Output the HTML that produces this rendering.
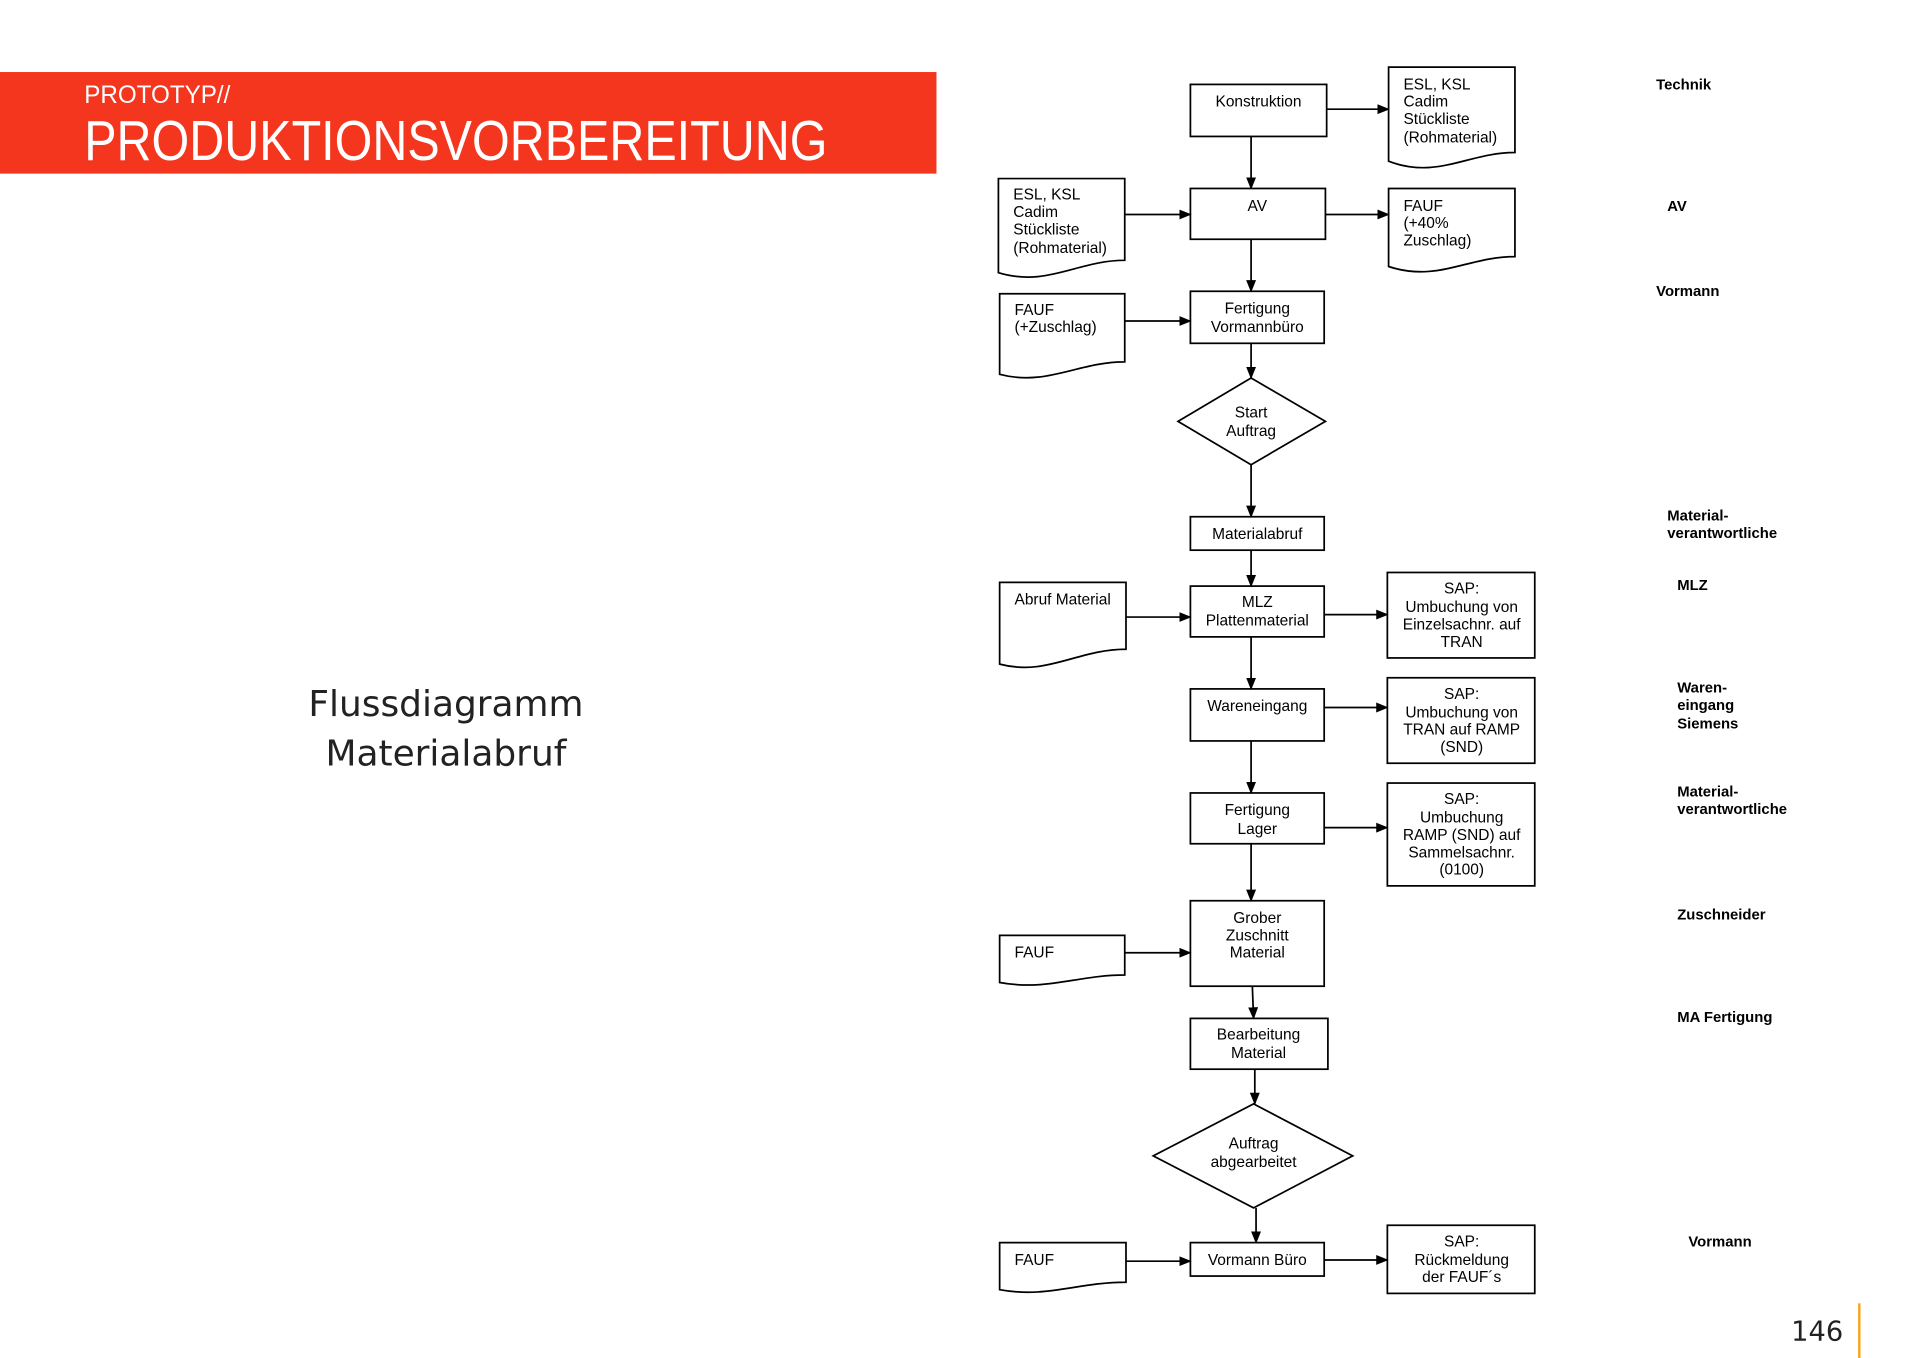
<!DOCTYPE html>
<html><head><meta charset="utf-8"><style>
html,body{margin:0;padding:0;background:#fff;}
svg{display:block;}
.t{font-family:"Liberation Sans",Arial,sans-serif;font-size:12.5px;fill:#000;}
.l{font-family:"Liberation Sans",Arial,sans-serif;font-size:12px;font-weight:bold;fill:#000;}
.s{fill:#fff;stroke:#000;stroke-width:1.4;}
.a{stroke:#000;stroke-width:1.4;fill:none;marker-end:url(#ah);}
</style></head><body>
<svg width="1920" height="1358" viewBox="0 0 1550 1096" xmlns="http://www.w3.org/2000/svg">
<defs><marker id="ah" markerWidth="10" markerHeight="10" refX="9" refY="5" orient="auto" markerUnits="userSpaceOnUse"><path d="M0,1 L10,5 L0,9 Z" fill="#000"/></marker></defs>
<rect x="0" y="58" width="756" height="82" fill="#f4361f"/>
<text x="68" y="83" font-family="Liberation Sans, sans-serif" font-size="20" fill="#fff" textLength="118" lengthAdjust="spacingAndGlyphs">PROTOTYP//</text>
<text x="68" y="129" font-family="Liberation Sans, sans-serif" font-size="46" fill="#fff" textLength="600" lengthAdjust="spacingAndGlyphs">PRODUKTIONSVORBEREITUNG</text>
<text x="360" y="578" text-anchor="middle" font-family="DejaVu Sans, sans-serif" font-size="29" fill="#222">Flussdiagramm</text>
<text x="360" y="618" text-anchor="middle" font-family="DejaVu Sans, sans-serif" font-size="29" fill="#222">Materialabruf</text>
<text x="1446" y="1082" font-family="DejaVu Sans, sans-serif" font-size="22" fill="#222">146</text>
<rect x="1500" y="1052" width="2" height="56" fill="#f5a623"/>

<rect class="s" x="961" y="68" width="110" height="42"/><text class="t" x="1016" y="86" text-anchor="middle">Konstruktion</text>
<rect class="s" x="961" y="152" width="109" height="41"/><text class="t" x="1015" y="170" text-anchor="middle">AV</text>
<rect class="s" x="961" y="235" width="108" height="42"/><text class="t" x="1015" y="253" text-anchor="middle">Fertigung</text><text class="t" x="1015" y="268" text-anchor="middle">Vormannbüro</text>
<polygon class="s" points="1010,305 1070,340 1010,375 951,340"/><text class="t" x="1010" y="337" text-anchor="middle">Start</text><text class="t" x="1010" y="352" text-anchor="middle">Auftrag</text>
<rect class="s" x="961" y="417" width="108" height="27"/><text class="t" x="1015" y="435" text-anchor="middle">Materialabruf</text>
<rect class="s" x="961" y="473" width="108" height="41"/><text class="t" x="1015" y="490" text-anchor="middle">MLZ</text><text class="t" x="1015" y="505" text-anchor="middle">Plattenmaterial</text>
<rect class="s" x="961" y="556" width="108" height="42"/><text class="t" x="1015" y="574" text-anchor="middle">Wareneingang</text>
<rect class="s" x="961" y="640" width="108" height="41"/><text class="t" x="1015" y="658" text-anchor="middle">Fertigung</text><text class="t" x="1015" y="673" text-anchor="middle">Lager</text>
<rect class="s" x="961" y="727" width="108" height="69"/><text class="t" x="1015" y="745" text-anchor="middle">Grober</text><text class="t" x="1015" y="759" text-anchor="middle">Zuschnitt</text><text class="t" x="1015" y="773" text-anchor="middle">Material</text>
<rect class="s" x="961" y="822" width="111" height="41"/><text class="t" x="1016" y="839" text-anchor="middle">Bearbeitung</text><text class="t" x="1016" y="854" text-anchor="middle">Material</text>
<polygon class="s" points="1012,891 1092,933 1012,975 931,933"/><text class="t" x="1012" y="927" text-anchor="middle">Auftrag</text><text class="t" x="1012" y="942" text-anchor="middle">abgearbeitet</text>
<rect class="s" x="961" y="1003" width="108" height="27"/><text class="t" x="1015" y="1021" text-anchor="middle">Vormann Büro</text>

<rect class="s" x="1120" y="462" width="119" height="69"/><text class="t" x="1180" y="479" text-anchor="middle">SAP:</text><text class="t" x="1180" y="494" text-anchor="middle">Umbuchung von</text><text class="t" x="1180" y="508" text-anchor="middle">Einzelsachnr. auf</text><text class="t" x="1180" y="522" text-anchor="middle">TRAN</text>
<rect class="s" x="1120" y="547" width="119" height="69"/><text class="t" x="1180" y="564" text-anchor="middle">SAP:</text><text class="t" x="1180" y="579" text-anchor="middle">Umbuchung von</text><text class="t" x="1180" y="593" text-anchor="middle">TRAN auf RAMP</text><text class="t" x="1180" y="607" text-anchor="middle">(SND)</text>
<rect class="s" x="1120" y="632" width="119" height="83"/><text class="t" x="1180" y="649" text-anchor="middle">SAP:</text><text class="t" x="1180" y="664" text-anchor="middle">Umbuchung</text><text class="t" x="1180" y="678" text-anchor="middle">RAMP (SND) auf</text><text class="t" x="1180" y="692" text-anchor="middle">Sammelsachnr.</text><text class="t" x="1180" y="706" text-anchor="middle">(0100)</text>
<rect class="s" x="1120" y="989" width="119" height="55"/><text class="t" x="1180" y="1006" text-anchor="middle">SAP:</text><text class="t" x="1180" y="1021" text-anchor="middle">Rückmeldung</text><text class="t" x="1180" y="1035" text-anchor="middle">der FAUF´s</text>

<path class="s" d="M1121,54 H1223 V123 C1185,123 1160,145 1121,130 Z"/>
<text class="t" x="1133" y="72">ESL, KSL</text><text class="t" x="1133" y="86">Cadim</text><text class="t" x="1133" y="100">Stückliste</text><text class="t" x="1133" y="115">(Rohmaterial)</text>
<path class="s" d="M1121,152 H1223 V207 C1185,207 1160,228 1121,215 Z"/>
<text class="t" x="1133" y="170">FAUF</text><text class="t" x="1133" y="184">(+40%</text><text class="t" x="1133" y="198">Zuschlag)</text>
<path class="s" d="M806,144 H908 V210 C870,210 845,232 806,220 Z"/>
<text class="t" x="818" y="161">ESL, KSL</text><text class="t" x="818" y="175">Cadim</text><text class="t" x="818" y="189">Stückliste</text><text class="t" x="818" y="204">(Rohmaterial)</text>
<path class="s" d="M807,237 H908 V292 C870,292 845,312 807,302 Z"/>
<text class="t" x="819" y="254">FAUF</text><text class="t" x="819" y="268">(+Zuschlag)</text>
<path class="s" d="M807,470 H909 V524 C870,524 845,546 807,536 Z"/>
<text class="t" x="819" y="488">Abruf Material</text>
<path class="s" d="M807,755 H908 V787 C870,787 845,800 807,793 Z"/>
<text class="t" x="819" y="773">FAUF</text>
<path class="s" d="M807,1003 H909 V1035 C870,1035 845,1048 807,1041 Z"/>
<text class="t" x="819" y="1021">FAUF</text>

<line class="a" x1="1010" y1="110" x2="1010" y2="152"/>
<line class="a" x1="1010" y1="193" x2="1010" y2="235"/>
<line class="a" x1="1010" y1="277" x2="1010" y2="305"/>
<line class="a" x1="1010" y1="375" x2="1010" y2="417"/>
<line class="a" x1="1010" y1="444" x2="1010" y2="473"/>
<line class="a" x1="1010" y1="514" x2="1010" y2="556"/>
<line class="a" x1="1010" y1="598" x2="1010" y2="640"/>
<line class="a" x1="1010" y1="681" x2="1010" y2="727"/>
<line class="a" x1="1011" y1="796" x2="1012" y2="822"/>
<line class="a" x1="1013" y1="863" x2="1013" y2="891"/>
<line class="a" x1="1014" y1="975" x2="1014" y2="1003"/>
<line class="a" x1="1071" y1="88" x2="1121" y2="88"/>
<line class="a" x1="1070" y1="173" x2="1121" y2="173"/>
<line class="a" x1="908" y1="173" x2="961" y2="173"/>
<line class="a" x1="908" y1="259" x2="961" y2="259"/>
<line class="a" x1="909" y1="498" x2="961" y2="498"/>
<line class="a" x1="1069" y1="496" x2="1120" y2="496"/>
<line class="a" x1="1069" y1="571" x2="1120" y2="571"/>
<line class="a" x1="1069" y1="668" x2="1120" y2="668"/>
<line class="a" x1="908" y1="769" x2="961" y2="769"/>
<line class="a" x1="909" y1="1018" x2="961" y2="1018"/>
<line class="a" x1="1069" y1="1017" x2="1120" y2="1017"/>

<text class="l" x="1337" y="72">Technik</text>
<text class="l" x="1346" y="170">AV</text>
<text class="l" x="1337" y="239">Vormann</text>
<text class="l" x="1346" y="420">Material-</text><text class="l" x="1346" y="434">verantwortliche</text>
<text class="l" x="1354" y="476">MLZ</text>
<text class="l" x="1354" y="559">Waren-</text><text class="l" x="1354" y="573">eingang</text><text class="l" x="1354" y="588">Siemens</text>
<text class="l" x="1354" y="643">Material-</text><text class="l" x="1354" y="657">verantwortliche</text>
<text class="l" x="1354" y="742">Zuschneider</text>
<text class="l" x="1354" y="825">MA Fertigung</text>
<text class="l" x="1363" y="1006">Vormann</text>
</svg>
</body></html>
